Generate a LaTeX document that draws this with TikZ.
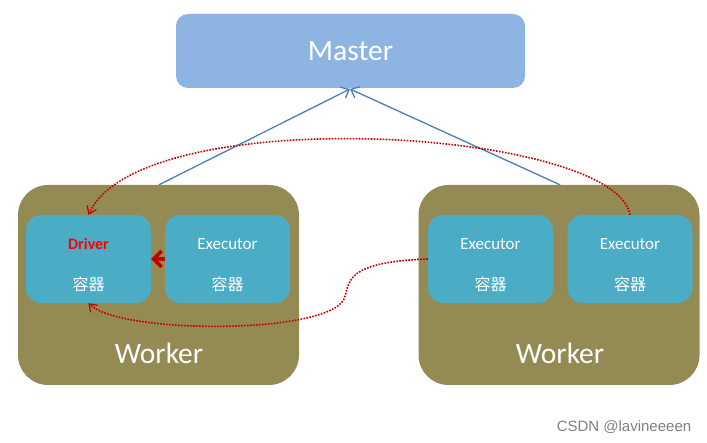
\documentclass[tikz,border=0pt]{standalone}
\usepackage{fontspec}
\setmainfont{Carlito}
\newfontfamily\cjk{Noto Sans CJK SC}
\newfontfamily\wm{Liberation Sans}
\usetikzlibrary{arrows.meta}
\definecolor{masterc}{HTML}{8EB4E3}
\definecolor{workerc}{HTML}{948A54}
\definecolor{boxc}{HTML}{4BACC6}
\definecolor{bluel}{HTML}{4A7EBB}
\definecolor{redl}{HTML}{C00000}
\definecolor{drvred}{HTML}{FF0000}
\tikzset{
  master/.style={fill=masterc, draw=none, rounded corners=12pt, minimum width=349pt, minimum height=74pt, text=white, font=\fontsize{29.5}{34}\selectfont},
  worker/.style={fill=workerc, draw=none, rounded corners=30pt, minimum width=281pt, minimum height=200pt},
  cbox/.style={fill=boxc, draw=none, rounded corners=15pt, minimum width=125pt, minimum height=88pt},
  lbl/.style={text=white, font=\fontsize{17}{20}\selectfont},
  cn/.style={text=white, font=\cjk\fontsize{16}{19}\selectfont},
  wlbl/.style={text=white, font=\fontsize{29.5}{34}\selectfont},
  bluearrow/.style={draw=bluel, line width=1.3pt, -{Straight Barb[length=7pt,width=12pt]}},
  reddot/.style={draw=redl, line width=1.6pt, dash pattern=on 1.6pt off 1.4pt, -{Straight Barb[length=7pt,width=10pt,line width=1.2pt]}},
  redthick/.style={draw=redl, line width=3.5pt, -{Straight Barb[length=8pt,width=16pt,line width=3.5pt]}},
}
\begin{document}
\begin{tikzpicture}[x=1pt,y=-1pt]
\useasboundingbox (0,0) rectangle (707,443);
\node[master] (master) at (350.5,51) {Master};
\node[worker] (w1) at (158.5,285) {};
\node[worker] (w2) at (559,285) {};
\node[cbox] (drv) at (88.5,259) {};
\node[cbox] (e1) at (227.5,259) {};
\node[cbox] (e2) at (490.5,259) {};
\node[cbox] (e3) at (630,259) {};
\node[text=drvred, font=\bfseries\fontsize{16}{19}\selectfont] (drvt) at (88.5,244) {Driver};
\node[cn] (drvc) at (88.5,284) {容器};
\node[lbl] (e1t) at (227.5,244) {Executor};
\node[cn] (e1c) at (227.5,284) {容器};
\node[lbl] (e2t) at (490.5,244) {Executor};
\node[cn] (e2c) at (490.5,284) {容器};
\node[lbl] (e3t) at (630,244) {Executor};
\node[cn] (e3c) at (630,284) {容器};
\node[wlbl] (w1t) at (159,353) {Worker};
\node[wlbl] (w2t) at (560,353) {Worker};
\node[text=gray, font=\wm\fontsize{15}{18}\selectfont] (wm) at (624,427) {CSDN @lavineeeen};
\coordinate (m1) at (350,89);
\draw[bluearrow] (w1.north) ++(0.5,0) -- (m1);
\draw[bluearrow] (w2.north) ++(1,0) -- (m1);
\draw[redthick] (e1.west) -- (drv.east);
\draw[reddot] (e3.north) .. controls (615,128) and (140,100) .. (drv.north);
\coordinate (mid) at (345,296);
\draw[reddot] (e2.west) .. controls (345,262) and (350,282) .. (mid) .. controls (338,335) and (120,335) .. (drv.south);
\end{tikzpicture}
\end{document}
